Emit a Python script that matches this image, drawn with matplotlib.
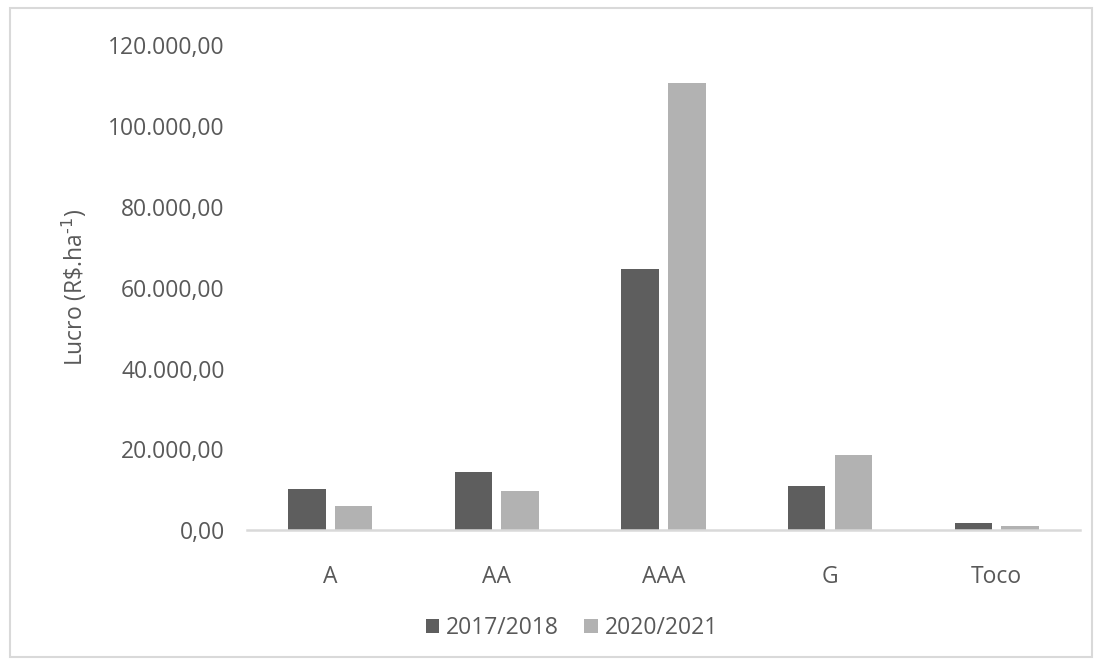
import matplotlib.pyplot as plt
import matplotlib.patches as mpatches
import numpy as np

plt.rcParams['font.family'] = ['Open Sans', 'DejaVu Sans']

categorias = ['A', 'AA', 'AAA', 'G', 'Toco']
safra_2017 = [10100, 14400, 64600, 10800, 1700]
safra_2020 = [5900, 9650, 110600, 18500, 900]
rotulos = ['2017/2018', '2020/2021']
yticks = [0, 20000, 40000, 60000, 80000, 100000, 120000]

cinza_txt = '#595959'
cor_escura = '#5e5e5e'
cor_clara = '#b2b2b2'

def fmt_br(v):
    s = '{:,.2f}'.format(v)
    return s.replace(',', 'X').replace('.', ',').replace('X', '.')

fig = plt.figure(figsize=(11.03, 6.66), dpi=100)
ax = fig.add_axes([0.224, 0.204, 0.755, 0.728])

x = np.arange(len(categorias))
w = 0.225
gap = 0.055
ax.bar(x - (w + gap) / 2, safra_2017, w, color=cor_escura, label=rotulos[0])
ax.bar(x + (w + gap) / 2, safra_2020, w, color=cor_clara, label=rotulos[1])

ax.set_xlim(-0.5, len(categorias) - 0.5)
ax.set_ylim(0, 120000)
ax.set_yticks(yticks)
ax.set_yticklabels([fmt_br(v) for v in yticks])
ax.set_xticks(x)
ax.set_xticklabels(categorias)
ax.tick_params(axis='both', length=0, labelsize=16.5, colors=cinza_txt)
ax.tick_params(axis='y', pad=16)
ax.tick_params(axis='x', pad=25)

for s in ['top', 'right', 'left']:
    ax.spines[s].set_visible(False)
ax.spines['bottom'].set_color('#d9d9d9')
ax.spines['bottom'].set_linewidth(1.8)

ax.set_ylabel('Lucro (R\\$.ha$^{\\text{-1}}$)', fontsize=16.5, color=cinza_txt, labelpad=14)

ax.legend(loc='center', bbox_to_anchor=(0.39, -0.202), ncol=2, frameon=False,
          fontsize=16.5, labelcolor=cinza_txt, handlelength=0.6, handleheight=0.6,
          handletextpad=0.3, columnspacing=1.1)

# moldura externa da figura
fig.patches.append(mpatches.Rectangle((0.009, 0.013), 0.981, 0.975, transform=fig.transFigure,
                                      fill=False, edgecolor='#d9d9d9', linewidth=1.5))

fig.savefig('out.png', dpi=100)
